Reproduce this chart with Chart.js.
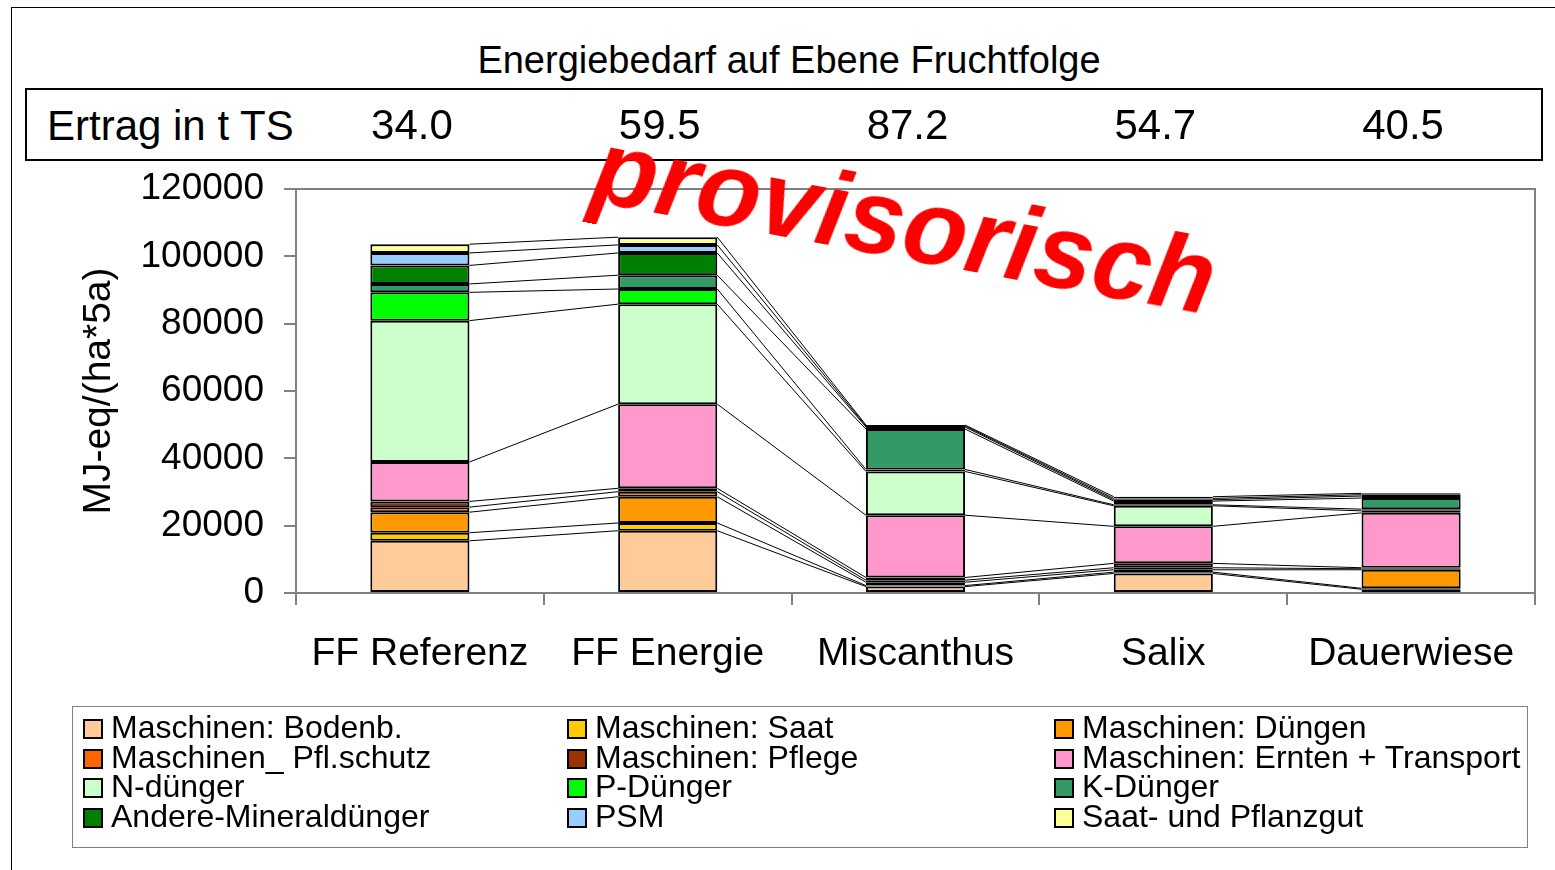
<!DOCTYPE html>
<html>
<head>
<meta charset="utf-8">
<script src="https://cdn.jsdelivr.net/npm/chart.js@4.4.1/dist/chart.umd.min.js"></script>
<style>
  html, body { margin: 0; padding: 0; background: #fff; }
  body { width: 1555px; height: 870px; position: relative; overflow: hidden;
         font-family: "Liberation Sans", Arial, sans-serif; color: #000; }
  #chart { position: absolute; left: 0; top: 0; }
  .frame { position: absolute; left: 11px; top: 7px; right: -5px; bottom: -5px;
           border-top: 1.5px solid #000; border-left: 1.5px solid #000; }
  .title { position: absolute; left: 0; width: 1578px; top: 38px; text-align: center;
           font-size: 38px; line-height: 44px; }
  .ertrag { position: absolute; left: 25px; top: 88px; width: 1514px; height: 69px;
            border: 2px solid #000; }
  .ertrag span { position: absolute; left: 20px; top: 13px; font-size: 42px; line-height: 46px; }
  .stamp { position: absolute; left: 905px; top: 222px; color: #f00; font-size: 105px;
           font-weight: bold; font-style: italic; white-space: nowrap; line-height: 1;
           transform: translate(-50%, -50%) rotate(10.5deg); }
  #legend { position: absolute; left: 72px; top: 706px; width: 1454px; height: 140px;
            border: 1.5px solid #808080; }
  .item { position: absolute; font-size: 32px; line-height: 30px; white-space: nowrap; }
  .item i { display: inline-block; width: 16px; height: 16px; border: 2px solid #000;
            margin-right: 8px; vertical-align: -1px; }
</style>
</head>
<body>
<div class="frame"></div>
<div class="title">Energiebedarf auf Ebene Fruchtfolge</div>
<div class="ertrag"><span>Ertrag in t TS</span></div>
<canvas id="chart" width="1555" height="870"></canvas>
<div class="stamp">provisorisch</div>
<div id="legend"></div>
<script>
// ---------- Data ----------
const categories = ["FF Referenz", "FF Energie", "Miscanthus", "Salix", "Dauerwiese"];
const ertrag = [34.0, 59.5, 87.2, 54.7, 40.5];

const bodenb    = [15500, 18500,  1900,  5800,  1100];
const saat      = [ 2400,  2300,   300,   400,   300];
const duengen   = [ 6100,  7800,  1000,   700,  5500];
const pflschutz = [ 1500,  1500,   600,   600,   300];
const pflege    = [ 1700,  1000,   800,  1300,   300];
const ernten    = [11700, 25000, 18500, 11000, 16300];
const nDuenger  = [42000, 29700, 13000,  6100,   600];
const pDuenger  = [ 8400,  4500,   600,   300,   500];
const kDuenger  = [ 2500,  4100, 12000,  1100,  3300];
const andere    = [ 5500,  6600,   600,   400,   600];
const psm       = [ 3700,  2400,   300,   400,   400];
const saatgut   = [ 2600,  2300,   300,   500,   400];

const seriesLabels = [
  "Maschinen: Bodenb.", "Maschinen: Saat", "Maschinen: Düngen",
  "Maschinen_ Pfl.schutz", "Maschinen: Pflege", "Maschinen: Ernten + Transport",
  "N-dünger", "P-Dünger", "K-Dünger",
  "Andere-Mineraldünger", "PSM", "Saat- und Pflanzgut"
];
const seriesValues = [bodenb, saat, duengen, pflschutz, pflege, ernten,
                      nDuenger, pDuenger, kDuenger, andere, psm, saatgut];
const seriesColors = ["#FFCC99", "#FFCC00", "#FF9900", "#FF6600", "#993300", "#FF99CC",
                      "#CCFFCC", "#00FF00", "#339966", "#008000", "#99CCFF", "#FFFF99"];
const yTicks = [0, 20000, 40000, 60000, 80000, 100000, 120000];

// ---------- Chart ----------
const FONT = '"Liberation Sans", Arial, sans-serif';
const GRAY = "#808080";

// series lines between the stacked bars (Excel style) + plot frame + yield numbers
const extras = {
  id: "extras",
  beforeDatasetsDraw(chart) {
    const { ctx } = chart;
    ctx.save();
    ctx.strokeStyle = "#000";
    ctx.lineWidth = 1;
    chart.data.datasets.forEach((ds, di) => {
      const els = chart.getDatasetMeta(di).data;
      for (let i = 0; i < els.length - 1; i++) {
        const p = els[i], q = els[i + 1];
        ctx.beginPath();
        ctx.moveTo(p.x + p.width / 2, p.y);
        ctx.lineTo(q.x - q.width / 2, q.y);
        ctx.stroke();
      }
    });
    ctx.restore();
  },
  afterDraw(chart) {
    const { ctx, chartArea: a, scales } = chart;
    ctx.save();
    ctx.strokeStyle = GRAY;
    ctx.lineWidth = 2;
    ctx.beginPath();
    ctx.moveTo(a.left, a.top);
    ctx.lineTo(a.right, a.top);
    ctx.lineTo(a.right, a.bottom);
    ctx.stroke();
    ctx.fillStyle = "#000";
    ctx.font = "42px " + FONT;
    ctx.textAlign = "center";
    ctx.textBaseline = "middle";
    ertrag.forEach((v, i) => {
      ctx.fillText(v.toFixed(1), scales.x.getPixelForValue(i) - 8, 127);
    });
    ctx.restore();
  }
};

new Chart(document.getElementById("chart"), {
  type: "bar",
  data: {
    labels: categories,
    datasets: seriesValues.map((vals, i) => ({
      label: seriesLabels[i],
      data: vals,
      backgroundColor: seriesColors[i],
      borderColor: "#000",
      borderWidth: 2,
      borderSkipped: false,
      barPercentage: 0.4,
      categoryPercentage: 1
    }))
  },
  options: {
    responsive: false,
    animation: false,
    devicePixelRatio: 1,
    layout: { padding: { left: 70, top: 189, right: 20, bottom: 197 } },
    plugins: { legend: { display: false }, tooltip: { enabled: false } },
    scales: {
      x: {
        stacked: true,
        grid: { drawOnChartArea: false, offset: true, tickLength: 12, color: GRAY, lineWidth: 2 },
        border: { color: GRAY, width: 2 },
        ticks: { font: { family: FONT, size: 39 }, color: "#000", padding: 26, maxRotation: 0 },
        afterFit: (s) => { s.height = 80; }
      },
      y: {
        stacked: true,
        min: 0,
        max: 120000,
        afterBuildTicks: (s) => { s.ticks = yTicks.map((v) => ({ value: v })); },
        grid: { drawOnChartArea: false, tickLength: 12, color: GRAY, lineWidth: 2 },
        border: { color: GRAY, width: 2 },
        ticks: { font: { family: FONT, size: 37 }, color: "#000", padding: 20,
                 callback: (v) => String(v) },
        title: { display: true, text: "MJ-eq/(ha*5a)", color: "#000",
                 font: { family: FONT, size: 39 }, padding: { top: 6, bottom: 0 } },
        afterFit: (s) => { s.width = 226; }
      }
    }
  },
  plugins: [extras]
});

// ---------- Legend (3 columns, row-major like the original) ----------
const legend = document.getElementById("legend");
const colX = [10, 494, 981];
seriesLabels.forEach((label, i) => {
  const d = document.createElement("div");
  d.className = "item";
  d.style.left = colX[i % 3] + "px";
  d.style.top = (5 + Math.floor(i / 3) * 29.7) + "px";
  d.innerHTML = `<i style="background:${seriesColors[i]}"></i>${label}`;
  legend.appendChild(d);
});
</script>
</body>
</html>
